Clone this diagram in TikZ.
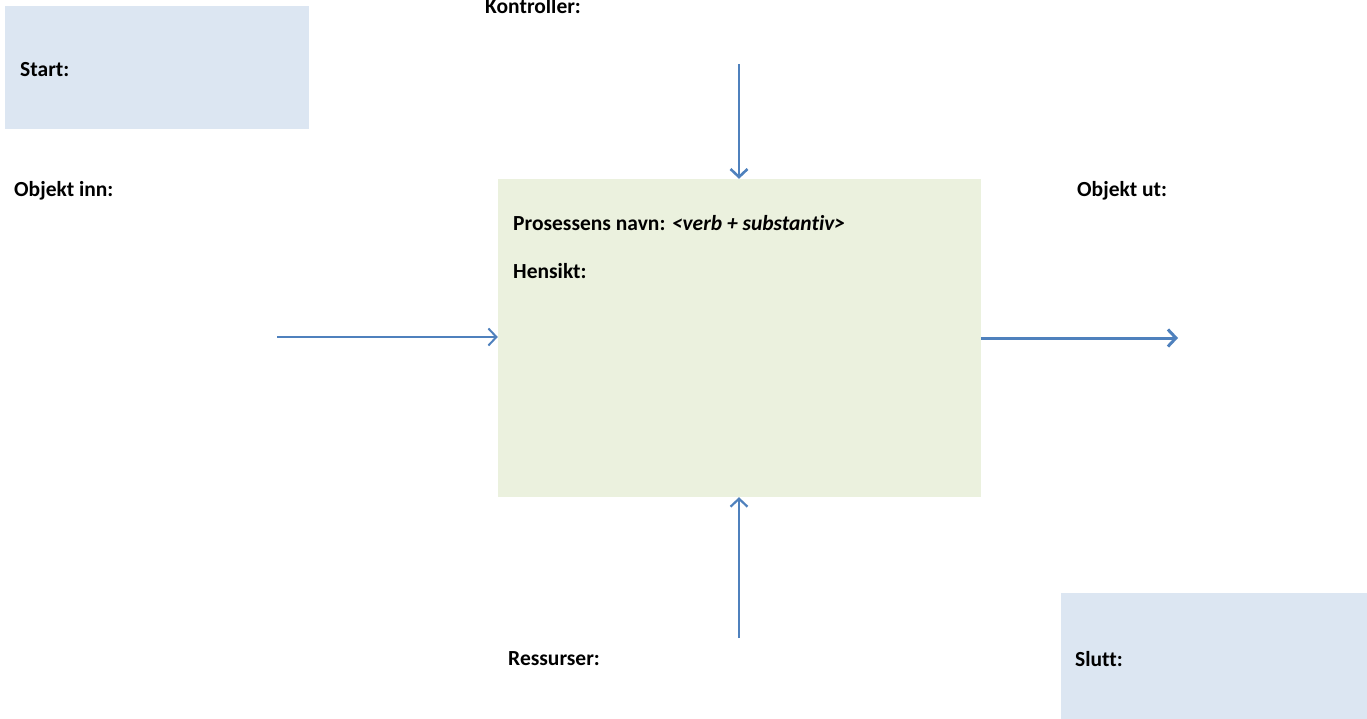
\documentclass[tikz,border=0pt]{standalone}
\usepackage{fontspec}
\setmainfont{Carlito}[Ligatures=NoCommon]
\usetikzlibrary{arrows.meta}
\usetikzlibrary{positioning}
\definecolor{pilblaa}{HTML}{4F81BD}
\definecolor{boksblaa}{HTML}{DCE6F2}
\definecolor{boksgronn}{HTML}{EBF1DE}
\tikzset{
    etikett/.style={anchor=base west, inner sep=0pt, font=\fontsize{21.5}{25}\selectfont\bfseries},
    pil/.style={draw=pilblaa, line width=2.6pt, -{Straight Barb[length=8pt,width=17pt]}},
}

\begin{document}
\begin{tikzpicture}[x=1pt,y=-1pt]
    	\useasboundingbox (0,0) rectangle (1367,719);
    	% boksene
    	\fill[boksblaa] (5,6) rectangle (309,129);
    	\fill[boksblaa] (1061,593) rectangle (1367,719);
    	\node[fill=boksgronn, minimum width=483pt, minimum height=318pt, inner sep=0pt] (prosess) at (739.5,338) {};
    	% tekster
    	\node[etikett] (start) at (20,77) {Start:};
    	\node[etikett] (kontroller) at (485,14) {Kontroller:};
    	\node[etikett] (inn) at (14,197) {Objekt inn:};
    	\node[etikett] (ut) at (1077,197) {Objekt ut:};
    	\node[etikett] (navn) at (513,231) {Prosessens navn: \textit{<verb + substantiv>}};
    	\node[etikett] (hensikt) at (513,279) {Hensikt:};
    	\node[etikett] (ressurser) at (508,665) {Ressurser:};
    	\node[etikett] (slutt) at (1075,666) {Slutt:};
    	% pilene
    	\coordinate (k0) at (739,64);
    	\coordinate (r0) at (739,638);
    	\coordinate (i0) at (277,337);
    	\coordinate (u1) at (1178,338);
    	\draw[pil] (k0) -- (prosess.north -| k0);
    	\draw[pil, line width=2.2pt] (r0) -- (prosess.south -| r0);
    	\draw[pil, line width=2pt] (i0) -- (prosess.west |- i0);
    	\draw[pil, line width=3pt] (prosess.east |- u1) -- (u1);
\end{tikzpicture}
\end{document}
